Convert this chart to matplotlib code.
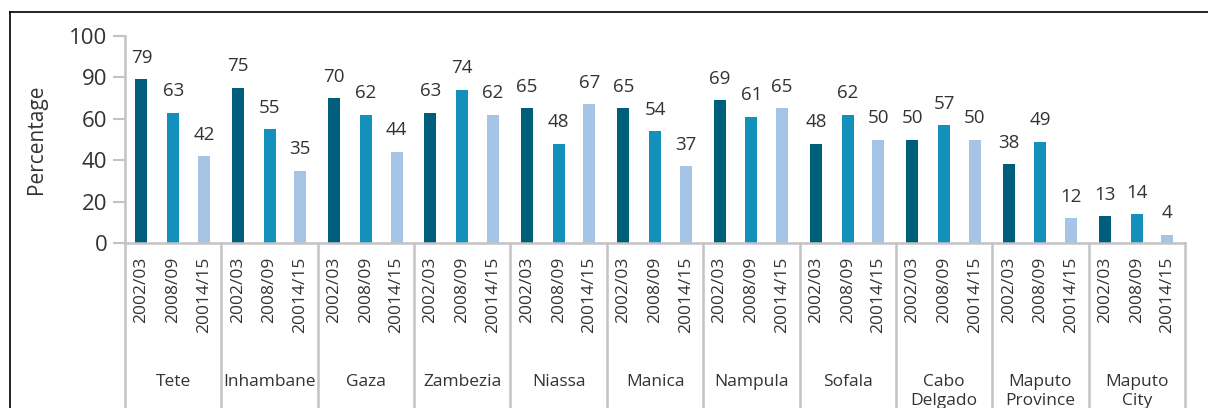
import numpy as np
import matplotlib
matplotlib.use("Agg")
import matplotlib.pyplot as plt
from matplotlib.lines import Line2D

plt.rcParams['font.family'] = ['Open Sans', 'DejaVu Sans']

# data
provinces = ['Tete', 'Inhambane', 'Gaza', 'Zambezia', 'Niassa', 'Manica',
             'Nampula', 'Sofala', 'Cabo\nDelgado', 'Maputo\nProvince', 'Maputo\nCity']
years = ['2002/03', '2008/09', '20014/15']
v_2002 = [79, 75, 70, 63, 65, 65, 69, 48, 50, 38, 13]
v_2008 = [63, 55, 62, 74, 48, 54, 61, 62, 57, 49, 14]
v_2014 = [42, 35, 44, 62, 67, 37, 65, 50, 50, 12, 4]
ytick_vals = [0, 20, 40, 60, 80, 100]
ytick_labels = ['0', '20', '40', '60', '90', '100']

colors = ['#005E7D', '#1390BB', '#A5C4E6']
grey = '#C3C3C3'
txt = '#333333'

fig = plt.figure(figsize=(12.08, 4.08), dpi=100)
ax = fig.add_axes([125 / 1208, 165 / 408, 1060 / 1208, 207 / 408])

x = np.arange(len(provinces))
offsets = [-0.33, 0.0, 0.318]
width = 0.125
series = [v_2002, v_2008, v_2014]

tick_pos = []
tick_lab = []
for s, off, c in zip(series, offsets, colors):
    bars = ax.bar(x + off, s, width=width, color=c, zorder=2)
    for b, v in zip(bars, s):
        ax.annotate(str(v), (b.get_x() + b.get_width() / 2, v), xytext=(0, 9),
                    textcoords='offset points', ha='center', va='bottom',
                    fontsize=13.5, color=txt)
for i in x:
    for off, y in zip(offsets, years):
        tick_pos.append(i + off)
        tick_lab.append(y)

ax.set_xlim(-0.5, len(provinces) - 0.5)
ax.set_ylim(0, 100)
ax.set_xticks(tick_pos)
ax.set_xticklabels(tick_lab, rotation=90, fontsize=12.5, color=txt, va='top')
ax.tick_params(axis='x', length=0, pad=10)
ax.set_yticks(ytick_vals)
ax.set_yticklabels(ytick_labels, fontsize=16, color=txt)
ax.tick_params(axis='y', length=8.6, width=1.5, color=grey, pad=4)

for side in ['top', 'right']:
    ax.spines[side].set_visible(False)
for side in ['left', 'bottom']:
    ax.spines[side].set_color(grey)
    ax.spines[side].set_linewidth(1.8)

ax.set_ylabel('Percentage', fontsize=15, color=txt)
ax.yaxis.set_label_coords(-0.074, 0.5)

# group separators and group names
tr = ax.get_xaxis_transform()
for b in np.arange(-0.5, len(provinces), 1.0):
    ax.plot([b, b], [0, -0.82], transform=tr, color=grey, lw=1.8, clip_on=False)
for i, p in zip(x, provinces):
    ax.text(i, -0.632, p, transform=tr, ha='center', va='top', fontsize=12.5,
            color=txt, linespacing=1.25)

# outer frame (top and left)
fig.add_artist(Line2D([10 / 1208, 1.0], [1 - 12 / 408, 1 - 12 / 408], color='black', lw=1.2))
fig.add_artist(Line2D([10 / 1208, 10 / 1208], [0, 1 - 12 / 408], color='black', lw=1.2))

fig.savefig('out.png', dpi=100)
